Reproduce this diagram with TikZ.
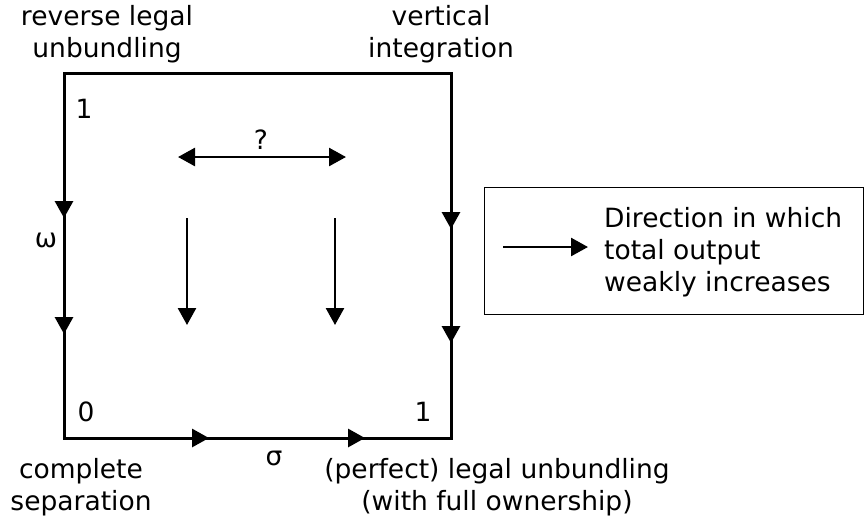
\documentclass[tikz,border=0pt]{standalone}
\usepackage{fontspec}
\setmainfont{DejaVu Sans}
\usetikzlibrary{arrows.meta}
\tikzset{
  lbl/.style={font=\fontsize{26.5}{32}\selectfont, inner sep=0pt, anchor=base},
  edge/.style={line width=3pt, line join=miter},
  inner/.style={line width=2.6pt, -{Triangle[width=18pt,length=17pt]}},
  tipd/.style={line width=3pt, -{Triangle[width=18pt,length=17pt]}},
  legbox/.style={draw, line width=1.3pt},
}
\begin{document}
\begin{tikzpicture}[x=1pt,y=-1pt]
\useasboundingbox (0,0) rectangle (865,523);
% square corners
\coordinate (TL) at (64,73);
\coordinate (TR) at (451,73);
\coordinate (BR) at (451,438);
\coordinate (BL) at (64,438);
\draw[edge] (TL) -- (TR) -- (BR) -- (BL) -- cycle;
% arrowheads on edges
\coordinate (L1s) at (64,190); \coordinate (L1) at (64,218);
\coordinate (L2s) at (64,300); \coordinate (L2) at (64,334);
\coordinate (R1s) at (451,200); \coordinate (R1) at (451,229);
\coordinate (R2s) at (451,310); \coordinate (R2) at (451,343);
\coordinate (B1s) at (180,438); \coordinate (B1) at (209,438);
\coordinate (B2s) at (335,438); \coordinate (B2) at (365,438);
\draw[tipd] (L1s) -- (L1);
\draw[tipd] (L2s) -- (L2);
\draw[tipd] (R1s) -- (R1);
\draw[tipd] (R2s) -- (R2);
\draw[tipd] (B1s) -- (B1);
\draw[tipd] (B2s) -- (B2);
% inner arrows
\coordinate (I1a) at (187,218); \coordinate (I1b) at (187,325);
\coordinate (I2a) at (335,218); \coordinate (I2b) at (335,325);
\draw[inner] (I1a) -- (I1b);
\draw[inner] (I2a) -- (I2b);
\coordinate (Ha) at (178,157); \coordinate (Hb) at (346,157);
\draw[line width=2.6pt, {Triangle[width=18pt,length=17pt]}-{Triangle[width=18pt,length=17pt]}] (Ha) -- (Hb);
\node[lbl] (q) at (261,149) {?};
% corner values
\node[lbl] (v1) at (84,118) {1};
\node[lbl] (v0) at (86,421) {0};
\node[lbl] (v1r) at (423,421) {1};
\node[lbl, anchor=center] (om) at (46,240) {ω};
\node[lbl, anchor=center] (si) at (274,458) {σ};
% top labels
\node[lbl] (rl1) at (107,25) {reverse legal};
\node[lbl] (rl2) at (107,57) {unbundling};
\node[lbl] (vi1) at (441,25) {vertical};
\node[lbl] (vi2) at (441,57) {integration};
% bottom labels
\node[lbl] (cs1) at (81,478) {complete};
\node[lbl] (cs2) at (81,510) {separation};
\node[lbl] (pl1) at (497,478) {(perfect) legal unbundling};
\node[lbl] (pl2) at (497,510) {(with full ownership)};
% legend
\node[legbox, minimum width=379pt, minimum height=127pt, anchor=north west, inner sep=0pt] (leg) at (484,187) {};
\coordinate (La) at (503,247); \coordinate (Lb) at (588,247);
\draw[inner] (La) -- (Lb);
\node[lbl, anchor=base west] (lt1) at (604,227) {Direction in which};
\node[lbl, anchor=base west] (lt2) at (604,259) {total output};
\node[lbl, anchor=base west] (lt3) at (604,291) {weakly increases};
\end{tikzpicture}
\end{document}
